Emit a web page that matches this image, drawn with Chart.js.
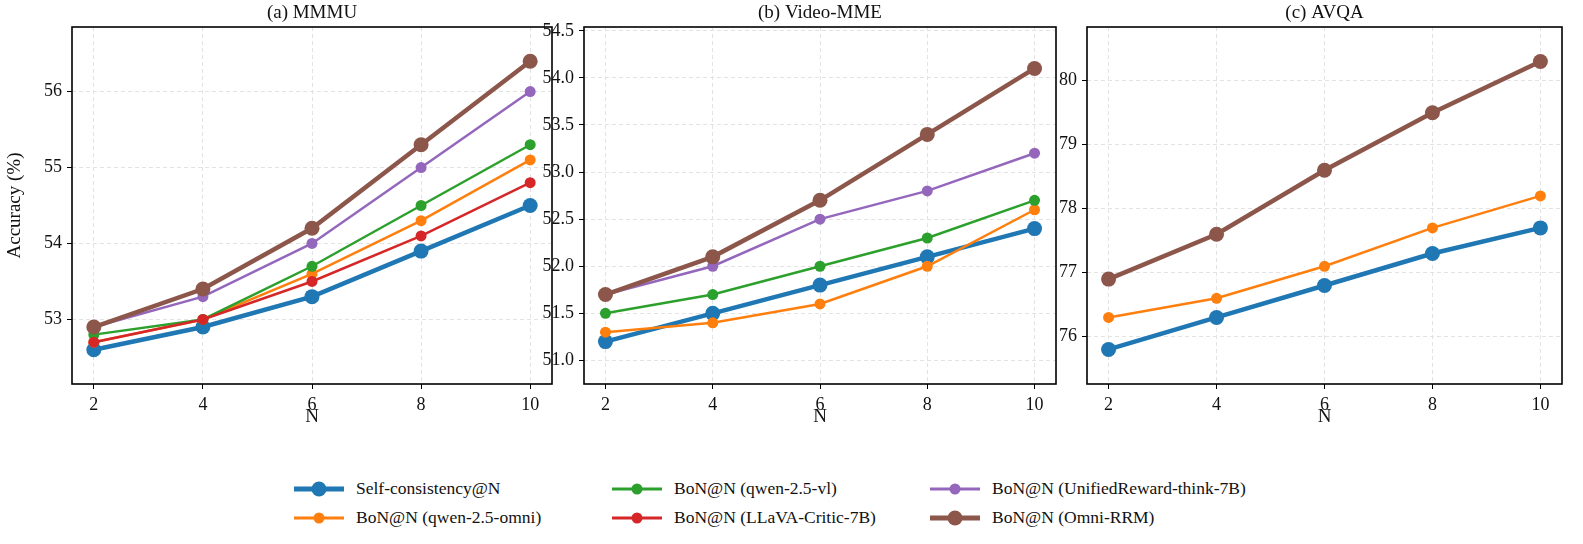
<!DOCTYPE html>
<html>
<head>
<meta charset="utf-8">
<script src="https://cdn.jsdelivr.net/npm/chart.js@4"></script>
<style>
  body { margin: 0; background: #fff; width: 1583px; height: 544px; position: relative; overflow: hidden; font-family: "Liberation Serif", "DejaVu Serif", serif; }
  canvas { position: absolute; top: 0; }
  #legend { position: absolute; left: 294px; top: 476px; display: grid; grid-template-columns: 318px 318px 330px; row-gap: 4px; font-size: 17.5px; color: #111; }
  .item { display: flex; align-items: center; height: 25px; }
  .sample { position: relative; width: 50px; height: 20px; margin-right: 12px; }
  .sample .ln { position: absolute; left: 0; right: 0; top: 50%; transform: translateY(-50%); }
  .sample .dot { position: absolute; left: 50%; top: 50%; transform: translate(-50%, -50%); border-radius: 50%; }
</style>
</head>
<body>
<canvas id="c0"></canvas>
<canvas id="c1"></canvas>
<canvas id="c2"></canvas>
<div id="legend"></div>
<script>
// valores
const nValues = [2, 4, 6, 8, 10];
const seriesNames = ['Self-consistency@N', 'BoN@N (qwen-2.5-omni)', 'BoN@N (qwen-2.5-vl)',
                     'BoN@N (LLaVA-Critic-7B)', 'BoN@N (UnifiedReward-think-7B)', 'BoN@N (Omni-RRM)'];
const seriesColors = ['#1f77b4', '#ff7f0e', '#2ca02c', '#d62728', '#9467bd', '#8c564b'];

const mmmuSelf = [52.6, 52.9, 53.3, 53.9, 54.5];
const mmmuOmni = [52.7, 53.0, 53.6, 54.3, 55.1];
const mmmuVl = [52.8, 53.0, 53.7, 54.5, 55.3];
const mmmuCritic = [52.7, 53.0, 53.5, 54.1, 54.8];
const mmmuUnified = [52.9, 53.3, 54.0, 55.0, 56.0];
const mmmuRrm = [52.9, 53.4, 54.2, 55.3, 56.4];

const videoSelf = [51.2, 51.5, 51.8, 52.1, 52.4];
const videoOmni = [51.3, 51.4, 51.6, 52.0, 52.6];
const videoVl = [51.5, 51.7, 52.0, 52.3, 52.7];
const videoUnified = [51.7, 52.0, 52.5, 52.8, 53.2];
const videoRrm = [51.7, 52.1, 52.7, 53.4, 54.1];

const avqaSelf = [75.8, 76.3, 76.8, 77.3, 77.7];
const avqaOmni = [76.3, 76.6, 77.1, 77.7, 78.2];
const avqaRrm = [76.9, 77.6, 78.6, 79.5, 80.3];

const mmmuTicks = [53, 54, 55, 56];
const videoTicks = [51.0, 51.5, 52.0, 52.5, 53.0, 53.5, 54.0, 54.5];
const avqaTicks = [76, 77, 78, 79, 80];

const FONT = '"Liberation Serif", "DejaVu Serif", serif';
const thick = [true, false, false, false, false, true];
const drawOrder = [5, 4, 3, 2, 1, 0];

function makeDatasets(list) {
    // list: [indice de serie, valores]
    return list.map(([i, vals]) => ({
        label: seriesNames[i],
        data: nValues.map((n, k) => ({ x: n, y: vals[k] })),
        borderColor: seriesColors[i],
        backgroundColor: seriesColors[i],
        borderWidth: thick[i] ? 4.5 : 2.5,
        pointRadius: thick[i] ? 7.5 : 5.5,
        pointHoverRadius: thick[i] ? 7.5 : 5.5,
        pointBorderWidth: 0,
        order: drawOrder[i],
        tension: 0
    }));
}

const framePlugin = {
    id: 'frame',
    afterDraw(chart, args, opts) {
        const { ctx, chartArea: a } = chart;
        ctx.save();
        ctx.strokeStyle = '#000';
        ctx.lineWidth = 1.6;
        ctx.strokeRect(a.left, a.top, a.right - a.left, a.bottom - a.top);
        ctx.fillStyle = '#111';
        ctx.font = '19px ' + FONT;
        ctx.textAlign = 'center';
        ctx.textBaseline = 'bottom';
        ctx.fillText(opts.text, (a.left + a.right) / 2, a.top - 4);
        ctx.restore();
    }
};

function makePanel(id, left, width, title, datasets, yMin, yMax, yTicks, decimals, yLabel) {
    const cv = document.getElementById(id);
    cv.style.left = left + 'px';
    cv.width = width;
    cv.height = 428;
    cv.style.width = width + 'px';
    cv.style.height = '428px';
    new Chart(cv.getContext('2d'), {
        type: 'line',
        data: { datasets: datasets },
        options: {
            responsive: false,
            animation: false,
            devicePixelRatio: 1,
            layout: { padding: { top: 27, right: 8, left: 0, bottom: 0 } },
            plugins: { legend: { display: false }, tooltip: { enabled: false }, frame: { text: title } },
            scales: {
                x: {
                    type: 'linear', min: 1.6, max: 10.4,
                    afterBuildTicks: s => { s.ticks = nValues.map(v => ({ value: v })); },
                    afterFit: s => { s.height = 44; },
                    grid: { color: '#e3e3e3', tickColor: '#000', tickLength: 5 },
                    border: { display: false, dash: [4, 3] },
                    ticks: { color: '#111', font: { family: FONT, size: 18 }, padding: 5, maxRotation: 0 },
                    title: { display: true, text: 'N', color: '#111', font: { family: FONT, size: 19 }, padding: { top: 4, bottom: 0 } }
                },
                y: {
                    min: yMin, max: yMax,
                    afterBuildTicks: s => { s.ticks = yTicks.map(v => ({ value: v })); },
                    afterFit: s => { s.width = 70; },
                    grid: { color: '#e3e3e3', tickColor: '#000', tickLength: 5 },
                    border: { display: false, dash: [4, 3] },
                    ticks: { color: '#111', font: { family: FONT, size: 18 }, padding: 5,
                             callback: v => v.toFixed(decimals) },
                    title: { display: !!yLabel, text: yLabel || '', color: '#111', font: { family: FONT, size: 19 }, padding: 2 }
                }
            }
        },
        plugins: [framePlugin]
    });
}

makePanel('c0', 2, 558, '(a) MMMU',
    makeDatasets([[0, mmmuSelf], [1, mmmuOmni], [2, mmmuVl], [3, mmmuCritic], [4, mmmuUnified], [5, mmmuRrm]]),
    52.15, 56.85, mmmuTicks, 0, 'Accuracy (%)');
makePanel('c1', 514, 550, '(b) Video-MME',
    makeDatasets([[0, videoSelf], [1, videoOmni], [2, videoVl], [4, videoUnified], [5, videoRrm]]),
    50.75, 54.54, videoTicks, 1, '');
makePanel('c2', 1017, 553, '(c) AVQA',
    makeDatasets([[0, avqaSelf], [1, avqaOmni], [5, avqaRrm]]),
    75.26, 80.84, avqaTicks, 0, '');

// leyenda en HTML, orden por columnas
const legend = document.getElementById('legend');
[0, 2, 4, 1, 3, 5].forEach(i => {
    const item = document.createElement('div');
    item.className = 'item';
    const r = thick[i] ? 15 : 11;
    item.innerHTML = '<div class="sample"><div class="ln" style="height:' + (thick[i] ? 5 : 3) + 'px;background:' + seriesColors[i] +
        '"></div><div class="dot" style="width:' + r + 'px;height:' + r + 'px;background:' + seriesColors[i] + '"></div></div>' +
        '<span>' + seriesNames[i] + '</span>';
    legend.appendChild(item);
});
</script>
</body>
</html>
